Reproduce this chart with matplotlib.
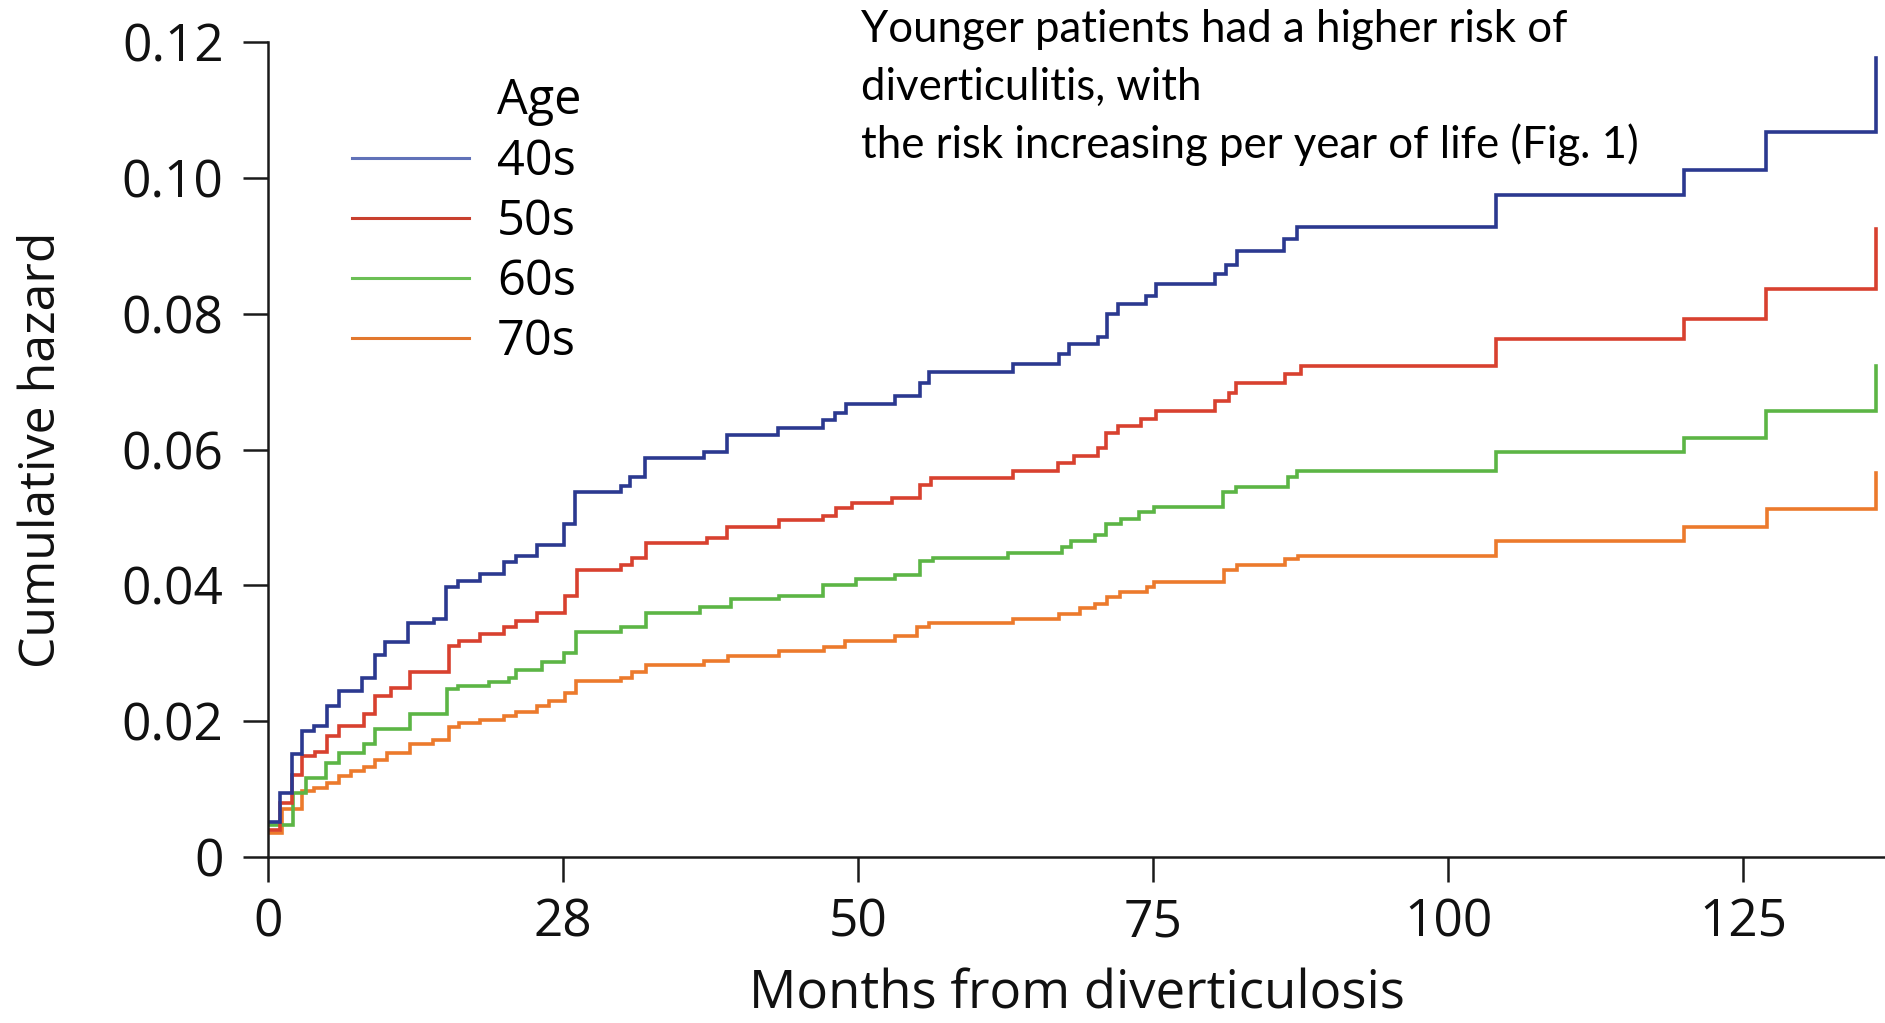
import matplotlib
matplotlib.use('Agg')
import matplotlib.pyplot as plt
from matplotlib.lines import Line2D

# cumulative hazard step curves (months, hazard after step)
t_40s = [0, 1.0, 2.0, 2.9, 3.9, 5.0, 6.0, 8.0, 9.1, 9.9, 11.9, 14.1, 15.1, 16.1, 18.0, 20.0, 21.0, 22.8, 25.1, 26.0,
         29.9, 30.7, 31.9, 36.9, 38.9, 43.2, 47.0, 48.0, 49.0, 53.1, 55.2, 56.0, 63.1, 67.0, 67.9, 70.3, 71.1, 72.0,
         74.4, 75.2, 80.2, 81.2, 82.1, 86.1, 87.2, 104.0, 120.0, 126.9, 136.2]
h_40s = [0.0052, 0.0094, 0.0151, 0.0185, 0.0193, 0.0222, 0.0245, 0.0264, 0.0297, 0.0316, 0.0345, 0.0351, 0.0397,
         0.0407, 0.0417, 0.0434, 0.0443, 0.0459, 0.0491, 0.0538, 0.0546, 0.0560, 0.0587, 0.0597, 0.0622, 0.0632,
         0.0644, 0.0654, 0.0667, 0.0679, 0.0698, 0.0714, 0.0726, 0.0740, 0.0756, 0.0766, 0.0799, 0.0814, 0.0826,
         0.0843, 0.0858, 0.0871, 0.0892, 0.0910, 0.0928, 0.0974, 0.1011, 0.1067, 0.1176]

t_50s = [0, 1.0, 2.0, 2.9, 4.0, 5.0, 6.0, 8.1, 9.1, 10.4, 12.0, 15.3, 16.2, 18.0, 20.0, 21.0, 22.8, 25.2, 26.2,
         29.9, 30.8, 32.0, 37.2, 38.9, 43.3, 47.0, 48.1, 49.5, 52.9, 55.2, 56.2, 63.1, 66.9, 68.3, 70.3, 71.0, 72.0,
         74.0, 75.2, 80.2, 81.4, 82.0, 86.2, 87.5, 104.0, 120.0, 126.9, 136.2]
h_50s = [0.0040, 0.0079, 0.0121, 0.0148, 0.0155, 0.0178, 0.0193, 0.0210, 0.0237, 0.0249, 0.0272, 0.0311, 0.0318,
         0.0328, 0.0338, 0.0348, 0.0360, 0.0385, 0.0422, 0.0430, 0.0440, 0.0462, 0.0469, 0.0486, 0.0496, 0.0502,
         0.0514, 0.0521, 0.0529, 0.0548, 0.0558, 0.0568, 0.0580, 0.0590, 0.0602, 0.0624, 0.0634, 0.0645, 0.0656,
         0.0672, 0.0683, 0.0698, 0.0711, 0.0723, 0.0762, 0.0792, 0.0836, 0.0925]

t_60s = [0, 2.1, 3.2, 4.9, 6.0, 8.1, 9.1, 12.0, 15.2, 16.1, 18.7, 20.4, 21.0, 23.2, 25.1, 26.1, 29.9, 32.0, 36.6,
         39.2, 43.3, 47.0, 49.8, 53.1, 55.2, 56.3, 62.7, 67.3, 68.0, 70.1, 71.0, 72.3, 73.8, 75.1, 80.9, 82.0, 86.4,
         87.2, 104.0, 120.0, 126.9, 136.2]
h_60s = [0.0047, 0.0094, 0.0116, 0.0139, 0.0153, 0.0166, 0.0189, 0.0210, 0.0247, 0.0252, 0.0257, 0.0264, 0.0275,
         0.0287, 0.0301, 0.0331, 0.0338, 0.0360, 0.0368, 0.0380, 0.0385, 0.0401, 0.0410, 0.0415, 0.0436, 0.0440,
         0.0448, 0.0457, 0.0465, 0.0474, 0.0490, 0.0498, 0.0508, 0.0516, 0.0538, 0.0545, 0.0560, 0.0568, 0.0597,
         0.0617, 0.0656, 0.0723]

t_70s = [0, 1.2, 2.9, 3.9, 5.0, 6.0, 7.0, 8.1, 9.1, 10.1, 12.0, 14.0, 15.3, 16.2, 18.0, 20.0, 21.0, 22.8, 23.8,
         25.2, 26.1, 29.9, 30.8, 32.0, 36.9, 39.0, 43.3, 47.1, 48.9, 53.1, 55.0, 56.0, 63.1, 67.0, 68.8, 70.1, 71.1,
         72.2, 74.5, 75.1, 81.0, 82.1, 86.2, 87.3, 104.0, 120.0, 127.0, 136.2]
h_70s = [0.0035, 0.0070, 0.0097, 0.0101, 0.0109, 0.0119, 0.0126, 0.0133, 0.0143, 0.0153, 0.0166, 0.0172, 0.0192,
         0.0197, 0.0202, 0.0207, 0.0214, 0.0222, 0.0229, 0.0241, 0.0259, 0.0264, 0.0272, 0.0282, 0.0289, 0.0296,
         0.0304, 0.0309, 0.0318, 0.0326, 0.0338, 0.0345, 0.0351, 0.0358, 0.0366, 0.0372, 0.0383, 0.0390, 0.0397,
         0.0405, 0.0422, 0.0430, 0.0439, 0.0443, 0.0466, 0.0486, 0.0513, 0.0566]

groups = ['40s', '50s', '60s', '70s']
line_colors = ['#2b3990', '#d8412f', '#5cb545', '#ec7a2c']
legend_colors = ['#6172b8', '#c8402e', '#6cbf55', '#e2782e']

x_ticks = [0, 25, 50, 75, 100, 125]
x_tick_labels = ['0', '28', '50', '75', '100', '125']
y_ticks = [0, 0.02, 0.04, 0.06, 0.08, 0.10, 0.12]
y_tick_labels = ['0', '0.02', '0.04', '0.06', '0.08', '0.10', '0.12']

note_lines = ['Younger patients had a higher risk of',
              'diverticulitis, with',
              'the risk increasing per year of life (Fig. 1)']

W, H = 1885, 1023
fig = plt.figure(figsize=(W / 100, H / 100), dpi=100)
ax = fig.add_axes([268 / W, 1 - 857 / H, 1 - 268 / W, (857 - 42) / H])

series = [(t_70s, h_70s, 3), (t_60s, h_60s, 2), (t_50s, h_50s, 1), (t_40s, h_40s, 0)]
for t, h, i in series:
    ax.step(t, h, where='post', color=line_colors[i], lw=2.6, solid_joinstyle='miter')

ax.set_xlim(0, 137)
ax.set_ylim(0, 0.12)
ax.set_xticks(x_ticks)
ax.set_xticklabels(x_tick_labels)
ax.set_yticks(y_ticks)
ax.set_yticklabels(y_tick_labels)

for lab in ax.get_xticklabels() + ax.get_yticklabels():
    lab.set_fontfamily('Open Sans')
    lab.set_fontsize(37)
    lab.set_color('#111111')
ax.tick_params(direction='out', length=18, width=1.8, color='#1a1a1a')
ax.tick_params(axis='x', pad=11)
ax.tick_params(axis='y', pad=14)

for s in ['top', 'right']:
    ax.spines[s].set_visible(False)
for s in ['left', 'bottom']:
    ax.spines[s].set_linewidth(1.8)
    ax.spines[s].set_color('#1a1a1a')

ax.set_xlabel('Months from diverticulosis', fontsize=38, family='Open Sans', color='#111111', labelpad=14)
ax.set_ylabel('Cumulative hazard', fontsize=36, family='Open Sans', color='#111111')
ax.yaxis.set_label_coords(-0.124, 0.5)

handles = [Line2D([], [], color='none')]
labels = ['Age']
for g, c in zip(groups, legend_colors):
    handles.append(Line2D([], [], color=c, lw=2.2))
    labels.append(g)
leg = ax.legend(handles, labels, loc='upper left', bbox_to_anchor=(352 / W, 1 - 77 / H),
                bbox_transform=fig.transFigure, frameon=False, borderpad=0, borderaxespad=0,
                handlelength=2.4, handletextpad=0.58, labelspacing=0.22,
                prop={'family': 'Open Sans', 'size': 35})

for k, txt in enumerate(note_lines):
    fig.text(861 / W, 1 - (42 + 58 * k) / H, txt, fontsize=31.5, family='Lato',
             color='black', ha='left', va='baseline')

fig.savefig('out.png', dpi=100)
